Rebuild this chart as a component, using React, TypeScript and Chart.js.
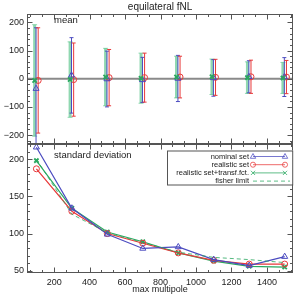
import React, { useEffect, useRef } from 'react';
import { Chart, registerables } from 'chart.js';

Chart.register(...registerables);

const TITLE = 'equilateral fNL';
const X_LABEL = 'max multipole';
const MULTIPOLES = [100, 300, 500, 700, 900, 1100, 1300, 1500];
const MEAN_NOMINAL = [-35, 12, -1, -4, 1, 3, 7, 6];
const MEAN_REALISTIC = [-6, -3, 4, 4, 6, 5, 7, 6];
const MEAN_TRANSF = [-6, -3, 6, 2, 6, 7, 4, 3];
const STD_NOMINAL = [216, 134, 99, 80, 82, 65, 57, 69];
const STD_REALISTIC = [187, 130, 100, 87, 74, 64, 59, 59];
const STD_TRANSF = [198, 134, 102, 89, 74, 63, 56, 55];
const STD_FISHER = [200, 126, 101, 88, 75, 68, 65, 61];
const X_TICKS = [200, 400, 600, 800, 1000, 1200, 1400];
const MEAN_TICKS = [-200, -100, 0, 100, 200];
const STD_TICKS = [50, 100, 150, 200];
const LEGEND_LABELS = ['nominal set', 'realistic set', 'realistic set+transf.fct.', 'fisher limit'];
const OFF_NOMINAL = -2;
const OFF_REALISTIC = 10;
const OFF_TRANSF = -10;

const BLUE = '#4b4bc0';
const RED = '#e8393a';
const GREEN = '#2aa860';
const GREEN_BAR = 'rgba(70,190,125,0.6)';
const FONT = "'Liberation Sans', Arial, sans-serif";

function seg(ctx: CanvasRenderingContext2D, x1: number, y1: number, x2: number, y2: number) {
  ctx.beginPath();
  ctx.moveTo(x1, y1);
  ctx.lineTo(x2, y2);
  ctx.stroke();
}

function marker(ctx: CanvasRenderingContext2D, kind: string, x: number, y: number, r: number) {
  ctx.beginPath();
  if (kind === 'triangle') {
    ctx.moveTo(x, y - r);
    ctx.lineTo(x + r * 0.9, y + r * 0.6);
    ctx.lineTo(x - r * 0.9, y + r * 0.6);
    ctx.closePath();
  } else if (kind === 'circle') {
    ctx.arc(x, y, r * 0.85, 0, Math.PI * 2);
  } else {
    const d = r * 0.7;
    ctx.moveTo(x - d, y - d);
    ctx.lineTo(x + d, y + d);
    ctx.moveTo(x + d, y - d);
    ctx.lineTo(x - d, y + d);
  }
  ctx.stroke();
}

const panelPlugin = {
  id: 'panels',
  beforeDatasetsDraw(chart: any) {
    const ctx: CanvasRenderingContext2D = chart.ctx;
    const xs = chart.scales.x;
    const yt = chart.scales.yTop;
    ctx.save();
    ctx.beginPath();
    ctx.rect(xs.left, yt.top, xs.right - xs.left, yt.bottom - yt.top);
    ctx.clip();
    const y0 = yt.getPixelForValue(0);
    ctx.strokeStyle = '#8a8a8a';
    ctx.lineWidth = 2;
    seg(ctx, xs.left, y0, xs.right, y0);
    const series = [
      { mean: MEAN_TRANSF, std: STD_TRANSF, off: OFF_TRANSF, color: GREEN_BAR, width: 3, cap: 2.5 },
      { mean: MEAN_NOMINAL, std: STD_NOMINAL, off: OFF_NOMINAL, color: BLUE, width: 1, cap: 2 },
      { mean: MEAN_REALISTIC, std: STD_REALISTIC, off: OFF_REALISTIC, color: RED, width: 1, cap: 2 },
    ];
    for (const s of series) {
      ctx.strokeStyle = s.color;
      ctx.lineWidth = s.width;
      MULTIPOLES.forEach((m, i) => {
        const px = xs.getPixelForValue(m + s.off);
        const top = yt.getPixelForValue(s.mean[i] + s.std[i]);
        const bot = yt.getPixelForValue(s.mean[i] - s.std[i]);
        seg(ctx, px, top, px, bot);
        ctx.lineWidth = 1;
        seg(ctx, px - s.cap, top, px + s.cap, top);
        seg(ctx, px - s.cap, bot, px + s.cap, bot);
        ctx.lineWidth = s.width;
      });
    }
    ctx.restore();
  },
  afterDraw(chart: any) {
    const ctx: CanvasRenderingContext2D = chart.ctx;
    const xs = chart.scales.x;
    const yt = chart.scales.yTop;
    const yb = chart.scales.yBot;
    ctx.save();
    const panels = [
      { ys: yt, major: MEAN_TICKS, minorStep: 20 },
      { ys: yb, major: STD_TICKS, minorStep: 10 },
    ];
    ctx.strokeStyle = '#555';
    ctx.lineWidth = 1;
    for (const p of panels) {
      const L = Math.round(xs.left) + 0.5;
      const R = Math.round(xs.right) - 0.5;
      const T = Math.round(p.ys.top) + 0.5;
      const B = Math.round(p.ys.bottom) - 0.5;
      ctx.strokeRect(L, T, R - L, B - T);
      for (let v = 0; v <= 1600; v += 200 / 3) {
        if (v < xs.min || v > xs.max) continue;
        const isMajor = Math.abs(v / 200 - Math.round(v / 200)) < 1e-6;
        const len = isMajor ? 5 : 2.5;
        const px = Math.round(xs.getPixelForValue(v)) + 0.5;
        seg(ctx, px, B, px, B - len);
        seg(ctx, px, T, px, T + len);
      }
      const mstep = p.major[1] - p.major[0];
      for (let v = Math.ceil(p.ys.min / p.minorStep) * p.minorStep; v <= p.ys.max; v += p.minorStep) {
        const isMajor = Math.abs(v / mstep - Math.round(v / mstep)) < 1e-6;
        const len = isMajor ? 5 : 2.5;
        const py = Math.round(p.ys.getPixelForValue(v)) + 0.5;
        seg(ctx, L, py, L + len, py);
        seg(ctx, R, py, R - len, py);
      }
    }
    ctx.fillStyle = '#222';
    ctx.textAlign = 'center';
    ctx.textBaseline = 'middle';
    const cx = (xs.left + xs.right) / 2;
    ctx.font = `10px ${FONT}`;
    ctx.fillText(TITLE, cx, 7);
    ctx.font = `9px ${FONT}`;
    ctx.fillText(X_LABEL, cx, 290);
    ctx.textAlign = 'left';
    ctx.font = `9.5px ${FONT}`;
    ctx.fillText('mean', 54, yt.top + 6.5);
    ctx.fillText('standard deviation', 54, yb.top + 12);
    const bx = 167;
    const by = yb.top + 7;
    const bw = xs.right - bx;
    const bh = 34;
    ctx.fillStyle = '#fff';
    ctx.fillRect(bx, by, bw, bh);
    ctx.strokeStyle = '#555';
    ctx.strokeRect(bx + 0.5, by + 0.5, bw - 1, bh);
    const colors = [BLUE, RED, GREEN, GREEN];
    const kinds = ['triangle', 'circle', 'cross', 'none'];
    ctx.font = `7.5px ${FONT}`;
    ctx.textAlign = 'right';
    LEGEND_LABELS.forEach((lab, i) => {
      const ry = by + 6 + i * 8.2;
      ctx.fillStyle = '#222';
      ctx.fillText(lab, 249, ry);
      ctx.strokeStyle = colors[i];
      ctx.globalAlpha = 0.75;
      ctx.lineWidth = 1;
      if (kinds[i] === 'none') {
        ctx.setLineDash([4, 3]);
        seg(ctx, 253, ry, 290, ry);
        ctx.setLineDash([]);
      } else {
        seg(ctx, 253, ry, 285, ry);
        marker(ctx, kinds[i], 253, ry, 3);
        marker(ctx, kinds[i], 285, ry, 3);
      }
      ctx.globalAlpha = 1;
    });
    ctx.restore();
  },
};

export default function App() {
  const canvasRef = useRef<HTMLCanvasElement | null>(null);
  useEffect(() => {
    const canvas = canvasRef.current;
    if (!canvas) return;
    const pts = (ys: number[], off: number) => MULTIPOLES.map((m, i) => ({ x: m + off, y: ys[i] }));
    const tickFont = { family: FONT, size: 9 };
    const fmt = (v: any) => String(v).replace('-', '\u2212');
    const chart = new Chart(canvas, {
      type: 'line',
      data: {
        datasets: [
          { label: 'mean transf', data: pts(MEAN_TRANSF, OFF_TRANSF), yAxisID: 'yTop', showLine: false, borderColor: GREEN, backgroundColor: GREEN, pointStyle: 'crossRot', pointRadius: 3, pointBorderWidth: 1.8 },
          { label: 'mean nominal', data: pts(MEAN_NOMINAL, OFF_NOMINAL), yAxisID: 'yTop', showLine: false, borderColor: BLUE, backgroundColor: 'transparent', pointStyle: 'triangle', pointRadius: 3.5, pointBorderWidth: 1 },
          { label: 'mean realistic', data: pts(MEAN_REALISTIC, OFF_REALISTIC), yAxisID: 'yTop', showLine: false, borderColor: RED, backgroundColor: 'transparent', pointStyle: 'circle', pointRadius: 3, pointBorderWidth: 1 },
          { label: 'fisher limit', data: pts(STD_FISHER, 0), yAxisID: 'yBot', borderColor: 'rgba(42,168,96,0.8)', borderWidth: 1, borderDash: [4, 3], pointRadius: 0, clip: 8 },
          { label: 'nominal set', data: pts(STD_NOMINAL, 0), yAxisID: 'yBot', borderColor: BLUE, backgroundColor: 'transparent', borderWidth: 1.2, pointStyle: 'triangle', pointRadius: 3.5, pointBorderWidth: 1, clip: 8 },
          { label: 'realistic set', data: pts(STD_REALISTIC, 0), yAxisID: 'yBot', borderColor: RED, backgroundColor: 'transparent', borderWidth: 1.2, pointStyle: 'circle', pointRadius: 3, pointBorderWidth: 1, clip: 8 },
          { label: 'realistic set+transf.fct.', data: pts(STD_TRANSF, 0), yAxisID: 'yBot', borderColor: GREEN, backgroundColor: GREEN, borderWidth: 1.2, pointStyle: 'crossRot', pointRadius: 3, pointBorderWidth: 1.8, clip: 8 },
        ],
      },
      options: {
        responsive: false,
        animation: false,
        events: [],
        layout: { padding: { top: 14, right: 2, left: 0, bottom: 0 } },
        plugins: { legend: { display: false }, tooltip: { enabled: false }, title: { display: false } },
        scales: {
          x: {
            type: 'linear',
            min: 47,
            max: 1548,
            grid: { display: false, drawTicks: false },
            border: { display: false },
            ticks: { font: tickFont, color: '#222', padding: 4, maxRotation: 0, callback: (v: any) => String(v) },
            afterBuildTicks: (s: any) => { s.ticks = X_TICKS.map((v) => ({ value: v })); },
            afterFit: (s: any) => { s.height = 26; },
          },
          yBot: {
            type: 'linear',
            position: 'left',
            stack: 'panels',
            stackWeight: 1,
            min: 47,
            max: 221,
            grid: { display: false, drawTicks: false },
            border: { display: false },
            ticks: { font: tickFont, color: '#222', padding: 3, callback: fmt },
            afterBuildTicks: (s: any) => { s.ticks = STD_TICKS.map((v) => ({ value: v })); },
            afterFit: (s: any) => { s.width = 27; },
          },
          yTop: {
            type: 'linear',
            position: 'left',
            stack: 'panels',
            stackWeight: 1,
            min: -230,
            max: 230,
            grid: { display: false, drawTicks: false },
            border: { display: false },
            ticks: { font: tickFont, color: '#222', padding: 3, callback: fmt },
            afterBuildTicks: (s: any) => { s.ticks = MEAN_TICKS.map((v) => ({ value: v })); },
            afterFit: (s: any) => { s.width = 27; },
          },
        },
      } as any,
      plugins: [panelPlugin],
    });
    return () => chart.destroy();
  }, []);
  return (
    <div style={{ position: 'fixed', left: 0, top: 0, width: 299, height: 299, background: '#fff' }}>
      <canvas ref={canvasRef} width={299} height={299} style={{ width: 299, height: 299 }} />
    </div>
  );
}
